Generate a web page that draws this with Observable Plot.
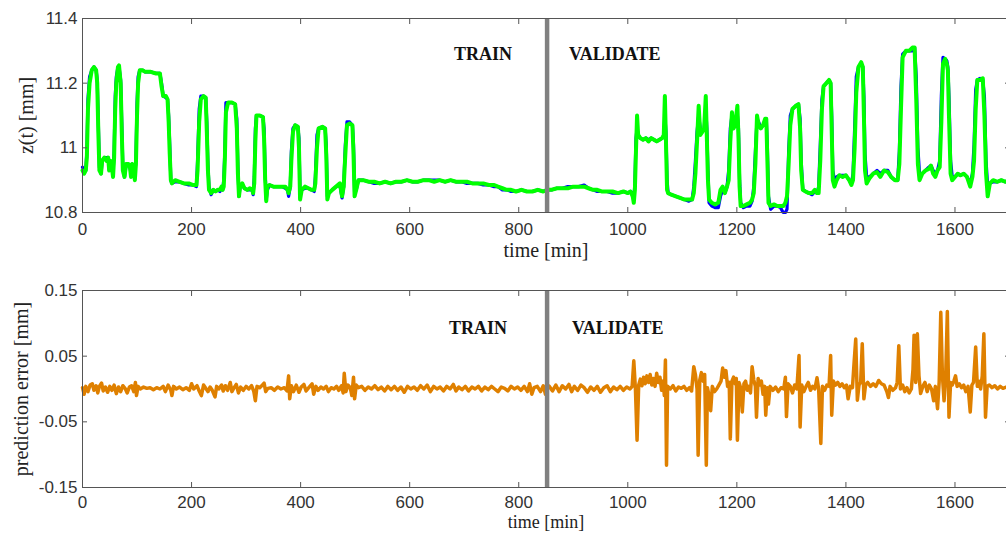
<!DOCTYPE html>
<html>
<head>
<meta charset="utf-8">
<script src="https://cdn.jsdelivr.net/npm/d3@7"></script>
<script src="https://cdn.jsdelivr.net/npm/@observablehq/plot@0.6"></script>
<style>
  html, body { margin: 0; padding: 0; background: #fff; overflow: hidden; }
  #chart { width: 1006px; height: 533px; }
  #chart svg { display: block; }
</style>
</head>
<body>
<div id="chart"></div>
<script>
// Time axis and the train/validate split
const xTicks = [0, 200, 400, 600, 800, 1000, 1200, 1400, 1600];
const timeDomain = [0, 1700];
const splitTime = 852;
const phaseNames = ["TRAIN", "VALIDATE"];
const xLabel = "time [min]";

// Upper panel: z(t), columns = [time, model output, measured]
const zTicks = [10.8, 11, 11.2, 11.4];
const zLabel = "z(t) [mm]";
const zSeries = [
  [0, 10.93, 10.94], [3, 10.92, 10.93], [6, 10.93, 10.93], [8, 10.97, 10.99], [10, 11.12, 11.15],
  [13, 11.20, 11.22], [17, 11.24, 11.24], [21, 11.25, 11.25], [25, 11.24, 11.24], [27, 11.20, 11.21],
  [29, 11.05, 11.08], [31, 10.93, 10.94], [34, 10.92, 10.92], [36, 10.96, 10.96], [40, 10.97, 10.97],
  [44, 10.96, 10.97], [47, 10.97, 10.97], [49, 10.93, 10.93], [51, 10.96, 10.96], [54, 10.94, 10.95],
  [56, 10.91, 10.92], [58, 10.97, 10.99], [60, 11.12, 11.16], [62, 11.20, 11.22], [65, 11.25, 11.25],
  [67, 11.255, 11.25], [70, 11.20, 11.21], [72, 11.05, 11.08], [74, 10.93, 10.94], [77, 10.91, 10.91],
  [80, 10.95, 10.95], [84, 10.95, 10.95], [87, 10.94, 10.94], [89, 10.91, 10.92], [91, 10.95, 10.95],
  [94, 10.94, 10.94], [96, 10.90, 10.91], [98, 10.95, 10.97], [100, 11.10, 11.14], [102, 11.20, 11.22],
  [105, 11.24, 11.24], [110, 11.24, 11.24], [115, 11.235, 11.235], [125, 11.235, 11.235], [135, 11.23, 11.23],
  [142, 11.23, 11.23], [145, 11.19, 11.20], [148, 11.16, 11.16], [153, 11.16, 11.155], [156, 11.15, 11.15],
  [158, 11.08, 11.10], [160, 10.98, 11.01], [162, 10.90, 10.90], [164, 10.89, 10.89], [170, 10.90, 10.895],
  [178, 10.895, 10.895], [186, 10.89, 10.89], [195, 10.89, 10.885], [203, 10.885, 10.885], [209, 10.885, 10.88],
  [211, 10.93, 10.96], [214, 11.08, 11.12], [217, 11.15, 11.16], [222, 11.16, 11.16], [226, 11.155, 11.155],
  [228, 11.05, 11.08], [230, 10.93, 10.95], [232, 10.87, 10.88], [236, 10.86, 10.855], [240, 10.87, 10.87],
  [244, 10.865, 10.865], [248, 10.87, 10.87], [252, 10.87, 10.865], [255, 10.88, 10.875], [257, 10.87, 10.87],
  [259, 10.88, 10.90], [261, 10.96, 10.99], [263, 11.11, 11.14], [267, 11.14, 11.14], [274, 11.14, 11.14],
  [280, 11.135, 11.135], [283, 11.06, 11.09], [285, 10.92, 10.94], [287, 10.85, 10.85], [289, 10.88, 10.88],
  [293, 10.89, 10.885], [297, 10.875, 10.875], [302, 10.87, 10.87], [307, 10.875, 10.87], [311, 10.87, 10.87],
  [313, 10.86, 10.855], [315, 10.89, 10.91], [317, 11.02, 11.06], [319, 11.10, 11.10], [325, 11.10, 11.10],
  [331, 11.095, 11.095], [333, 11.03, 11.06], [335, 10.90, 10.92], [337, 10.835, 10.84], [339, 10.88, 10.87],
  [343, 10.885, 10.885], [350, 10.88, 10.88], [358, 10.88, 10.88], [366, 10.88, 10.88], [372, 10.88, 10.875],
  [376, 10.87, 10.87], [378, 10.86, 10.85], [381, 10.88, 10.88], [383, 10.96, 10.99], [386, 11.05, 11.06],
  [390, 11.07, 11.07], [395, 11.065, 11.065], [397, 11.00, 11.03], [399, 10.84, 10.86], [402, 10.87, 10.87],
  [408, 10.88, 10.875], [414, 10.875, 10.875], [420, 10.87, 10.87], [425, 10.87, 10.865], [427, 10.89, 10.91],
  [430, 11.00, 11.04], [433, 11.06, 11.06], [440, 11.065, 11.065], [445, 11.06, 11.06], [447, 10.98, 11.01],
  [449, 10.84, 10.85], [452, 10.86, 10.86], [458, 10.87, 10.87], [465, 10.88, 10.88], [472, 10.89, 10.885],
  [476, 10.85, 10.845], [479, 10.88, 10.88], [482, 10.98, 11.01], [485, 11.07, 11.08], [490, 11.075, 11.08],
  [495, 11.07, 11.07], [497, 10.98, 11.01], [499, 10.85, 10.86], [502, 10.87, 10.87], [506, 10.90, 10.90],
  [515, 10.90, 10.90], [525, 10.895, 10.895], [535, 10.895, 10.89], [545, 10.89, 10.89], [555, 10.895, 10.895],
  [565, 10.89, 10.89], [575, 10.895, 10.895], [585, 10.895, 10.895], [595, 10.90, 10.90], [605, 10.895, 10.895],
  [615, 10.895, 10.895], [625, 10.90, 10.90], [635, 10.90, 10.90], [645, 10.895, 10.90], [655, 10.90, 10.90],
  [665, 10.895, 10.895], [675, 10.90, 10.90], [685, 10.895, 10.895], [695, 10.895, 10.895], [705, 10.895, 10.89],
  [715, 10.89, 10.89], [725, 10.89, 10.89], [735, 10.89, 10.885], [745, 10.885, 10.885], [755, 10.885, 10.88],
  [762, 10.88, 10.88], [770, 10.875, 10.87], [778, 10.87, 10.87], [786, 10.87, 10.865], [795, 10.865, 10.865],
  [805, 10.87, 10.87], [815, 10.865, 10.865], [825, 10.865, 10.865], [835, 10.87, 10.87], [845, 10.865, 10.865],
  [852, 10.87, 10.87], [860, 10.87, 10.87], [870, 10.875, 10.875], [880, 10.875, 10.875], [890, 10.875, 10.88],
  [900, 10.88, 10.88], [910, 10.88, 10.88], [920, 10.88, 10.885], [928, 10.875, 10.875], [936, 10.87, 10.87],
  [944, 10.87, 10.865], [952, 10.865, 10.865], [962, 10.865, 10.865], [972, 10.865, 10.86], [982, 10.86, 10.86],
  [992, 10.865, 10.865], [1000, 10.86, 10.86], [1005, 10.865, 10.865], [1009, 10.85, 10.86], [1011, 10.83, 10.84],
  [1013, 10.87, 10.89], [1015, 10.99, 11.03], [1017, 11.10, 11.06], [1019, 11.04, 11.04], [1023, 11.03, 11.03],
  [1028, 11.025, 11.025], [1033, 11.03, 11.03], [1038, 11.02, 11.025], [1043, 11.03, 11.03], [1048, 11.025, 11.025],
  [1053, 11.02, 11.02], [1058, 11.025, 11.025], [1063, 11.03, 11.03], [1066, 11.04, 11.035], [1068, 11.16, 11.10],
  [1070, 11.02, 11.05], [1072, 10.87, 10.90], [1074, 10.86, 10.86], [1080, 10.855, 10.855], [1088, 10.85, 10.85],
  [1096, 10.845, 10.845], [1104, 10.84, 10.84], [1112, 10.84, 10.835], [1118, 10.84, 10.84], [1121, 10.86, 10.88],
  [1124, 10.92, 10.96], [1127, 11.02, 11.05], [1130, 11.13, 11.10], [1133, 11.04, 11.06], [1137, 11.05, 11.05],
  [1140, 11.06, 11.06], [1143, 11.16, 11.12], [1145, 11.03, 11.06], [1147, 10.90, 10.93], [1149, 10.84, 10.83],
  [1154, 10.83, 10.82], [1160, 10.825, 10.815], [1166, 10.83, 10.815], [1170, 10.87, 10.85], [1174, 10.88, 10.87],
  [1178, 10.86, 10.86], [1182, 10.88, 10.88], [1185, 10.90, 10.93], [1188, 11.02, 11.06], [1191, 11.11, 11.10],
  [1194, 11.06, 11.07], [1197, 11.07, 11.07], [1201, 11.13, 11.10], [1203, 11.03, 11.06], [1205, 10.88, 10.90],
  [1207, 10.82, 10.83], [1212, 10.82, 10.815], [1218, 10.825, 10.82], [1224, 10.83, 10.82], [1228, 10.84, 10.835],
  [1231, 10.86, 10.88], [1234, 10.95, 10.99], [1237, 11.10, 11.09], [1240, 11.07, 11.08], [1244, 11.06, 11.06],
  [1248, 11.07, 11.07], [1252, 11.09, 11.08], [1254, 11.09, 11.09], [1256, 10.96, 11.00], [1258, 10.83, 10.85],
  [1262, 10.82, 10.81], [1268, 10.825, 10.82], [1274, 10.82, 10.82], [1280, 10.82, 10.815], [1285, 10.82, 10.80],
  [1289, 10.83, 10.80], [1292, 10.85, 10.81], [1295, 10.95, 10.99], [1298, 11.07, 11.10], [1302, 11.12, 11.12],
  [1308, 11.13, 11.13], [1313, 11.135, 11.135], [1316, 11.06, 11.09], [1318, 10.93, 10.96], [1321, 10.87, 10.87],
  [1326, 10.865, 10.865], [1332, 10.86, 10.86], [1338, 10.86, 10.855], [1343, 10.87, 10.865], [1347, 10.86, 10.86],
  [1350, 10.86, 10.88], [1353, 10.96, 11.01], [1356, 11.12, 11.15], [1359, 11.19, 11.19], [1364, 11.20, 11.20],
  [1369, 11.21, 11.21], [1372, 11.20, 11.20], [1374, 11.05, 11.10], [1376, 10.90, 10.93], [1379, 10.88, 10.90],
  [1383, 10.90, 10.91], [1388, 10.915, 10.915], [1394, 10.91, 10.915], [1400, 10.915, 10.915], [1406, 10.90, 10.90],
  [1410, 10.885, 10.89], [1413, 10.90, 10.92], [1416, 11.00, 11.06], [1419, 11.17, 11.22], [1423, 11.25, 11.25],
  [1428, 11.265, 11.26], [1431, 11.25, 11.25], [1433, 11.10, 11.16], [1435, 10.93, 10.98], [1438, 10.89, 10.91],
  [1443, 10.905, 10.91], [1450, 10.92, 10.92], [1457, 10.925, 10.93], [1463, 10.91, 10.92], [1470, 10.93, 10.93],
  [1477, 10.925, 10.93], [1483, 10.91, 10.91], [1490, 10.90, 10.90], [1495, 10.90, 10.90], [1498, 10.95, 10.99],
  [1501, 11.12, 11.19], [1504, 11.28, 11.29], [1510, 11.30, 11.30], [1516, 11.30, 11.30], [1522, 11.31, 11.30],
  [1526, 11.31, 11.31], [1529, 11.15, 11.22], [1532, 10.95, 11.00], [1535, 10.90, 10.92], [1540, 10.92, 10.92],
  [1546, 10.93, 10.93], [1552, 10.935, 10.94], [1556, 10.945, 10.945], [1560, 10.92, 10.93], [1564, 10.91, 10.92],
  [1568, 10.93, 10.93], [1572, 10.94, 10.96], [1575, 11.08, 11.16], [1578, 11.26, 11.28], [1582, 11.275, 11.275],
  [1585, 11.26, 11.27], [1587, 11.24, 11.25], [1589, 11.10, 11.16], [1592, 10.92, 10.96], [1595, 10.90, 10.91],
  [1600, 10.91, 10.91], [1605, 10.92, 10.92], [1610, 10.915, 10.915], [1616, 10.92, 10.92], [1622, 10.91, 10.91],
  [1628, 10.88, 10.89], [1632, 10.91, 10.92], [1635, 10.96, 11.01], [1638, 11.12, 11.18], [1641, 11.21, 11.21],
  [1646, 11.21, 11.215], [1651, 11.215, 11.21], [1654, 11.10, 11.16], [1657, 10.92, 10.96], [1660, 10.85, 10.88],
  [1664, 10.89, 10.89], [1670, 10.90, 10.895], [1678, 10.895, 10.895], [1685, 10.90, 10.90], [1692, 10.895, 10.895],
  [1700, 10.90, 10.90]
];

// Lower panel: prediction error, columns = [time, error]
const errTicks = [-0.15, -0.05, 0.05, 0.15];
const errLabel = "prediction error [mm]";
const errSeries = [
  [0, 0.002], [3, -0.008], [6, 0.004], [10, -0.004], [14, 0.006], [18, 0.008], [21, -0.002], [25, 0.005],
  [28, -0.006], [31, 0.004], [35, 0.009], [38, -0.003], [42, 0.003], [46, -0.005], [50, 0.004], [54, -0.002],
  [58, 0.006], [62, -0.007], [66, 0.003], [70, -0.004], [74, 0.005], [78, 0.001], [82, -0.006], [86, 0.003],
  [90, 0.005], [94, -0.004], [97, 0.010], [99, -0.010], [102, 0.004], [106, 0.000], [112, 0.003], [118, 0.001],
  [124, 0.002], [130, -0.001], [136, 0.002], [142, 0.000], [148, 0.004], [152, -0.004], [157, 0.006], [162, -0.002],
  [164, -0.010], [167, 0.004], [172, 0.000], [178, 0.003], [184, -0.001], [190, 0.002], [196, -0.002], [200, 0.008],
  [204, 0.000], [210, 0.005], [214, -0.003], [218, -0.010], [222, 0.006], [226, 0.001], [230, -0.004], [234, 0.003],
  [238, -0.002], [243, -0.012], [246, 0.004], [250, 0.000], [255, 0.006], [258, -0.003], [262, 0.005], [266, -0.002],
  [271, 0.010], [274, -0.004], [278, 0.002], [282, 0.007], [286, -0.006], [290, 0.003], [295, -0.002], [300, 0.004],
  [305, 0.000], [310, 0.005], [314, -0.003], [317, -0.018], [320, 0.004], [325, 0.002], [330, 0.006], [333, 0.009],
  [336, -0.004], [340, 0.001], [346, 0.002], [352, -0.002], [358, 0.003], [364, 0.000], [370, 0.002], [375, -0.003],
  [378, 0.020], [380, -0.015], [383, 0.005], [387, -0.004], [392, 0.006], [397, -0.005], [401, 0.003], [406, 0.007],
  [410, -0.003], [415, 0.002], [421, 0.008], [424, -0.008], [428, 0.004], [432, -0.002], [437, 0.003], [442, 0.000],
  [447, 0.004], [451, -0.004], [456, 0.002], [461, 0.000], [466, 0.004], [470, -0.002], [475, 0.005], [478, -0.006],
  [480, 0.024], [483, -0.004], [487, 0.006], [491, 0.002], [494, -0.010], [497, 0.018], [499, -0.015], [502, 0.006],
  [506, 0.002], [512, 0.004], [518, -0.002], [524, 0.003], [530, 0.000], [536, 0.005], [542, -0.001], [548, 0.003],
  [554, -0.003], [560, 0.004], [566, -0.001], [572, 0.004], [578, -0.002], [584, 0.003], [590, -0.005], [596, 0.004],
  [602, 0.000], [608, 0.003], [614, -0.002], [620, 0.005], [626, 0.000], [632, 0.006], [638, -0.004], [644, 0.004],
  [650, 0.000], [656, 0.003], [662, -0.003], [668, 0.004], [674, 0.000], [680, 0.007], [685, -0.003], [690, 0.003],
  [696, -0.001], [702, 0.004], [708, -0.003], [714, 0.003], [720, 0.000], [726, 0.004], [732, -0.003], [738, 0.003],
  [744, -0.001], [750, 0.004], [756, 0.000], [762, -0.004], [768, 0.003], [774, 0.001], [780, -0.003], [786, 0.004],
  [792, 0.000], [798, 0.003], [804, -0.002], [810, 0.004], [816, -0.004], [820, 0.008], [824, -0.008], [828, 0.002],
  [834, 0.004], [840, -0.004], [845, 0.005], [849, -0.008], [852, 0.006], [856, 0.004], [862, -0.003], [868, 0.006],
  [874, -0.004], [880, 0.005], [886, 0.000], [892, 0.007], [897, -0.004], [902, 0.004], [908, -0.002], [914, 0.006],
  [920, 0.002], [926, -0.005], [932, 0.003], [938, -0.002], [944, 0.004], [950, -0.005], [956, 0.002], [962, 0.005],
  [968, -0.004], [974, 0.003], [980, -0.001], [986, 0.004], [992, -0.002], [998, 0.003], [1004, 0.000], [1008, 0.004],
  [1011, 0.043], [1014, 0.000], [1017, -0.078], [1020, 0.006], [1023, 0.015], [1026, 0.005], [1029, 0.018], [1032, 0.008],
  [1035, 0.020], [1038, 0.010], [1041, 0.022], [1044, 0.006], [1047, 0.016], [1050, 0.004], [1053, 0.024], [1056, 0.010],
  [1059, 0.018], [1062, -0.002], [1065, 0.012], [1067, -0.010], [1069, 0.044], [1071, -0.116], [1073, 0.004], [1078, 0.000],
  [1083, 0.005], [1088, -0.003], [1093, 0.003], [1098, 0.001], [1103, 0.004], [1108, -0.002], [1113, 0.002], [1117, -0.003],
  [1121, 0.034], [1124, 0.022], [1127, 0.000], [1129, -0.101], [1132, 0.014], [1135, 0.025], [1138, 0.012], [1141, 0.022],
  [1144, -0.116], [1146, 0.002], [1149, -0.010], [1152, -0.033], [1155, 0.004], [1159, -0.004], [1163, 0.000], [1167, 0.006],
  [1171, 0.012], [1174, 0.032], [1177, 0.018], [1180, 0.028], [1183, 0.004], [1186, 0.010], [1188, -0.076], [1191, 0.012],
  [1194, 0.018], [1197, 0.008], [1199, 0.016], [1201, -0.078], [1204, 0.010], [1207, 0.002], [1210, -0.035], [1213, 0.008],
  [1216, 0.012], [1219, -0.002], [1222, 0.004], [1225, -0.006], [1228, 0.034], [1231, 0.014], [1234, 0.004], [1236, -0.043],
  [1239, 0.016], [1242, 0.006], [1245, 0.012], [1248, -0.008], [1251, 0.004], [1253, -0.040], [1256, 0.002], [1258, -0.023],
  [1261, 0.004], [1266, -0.002], [1271, 0.003], [1276, -0.004], [1281, 0.002], [1286, 0.000], [1289, 0.018], [1291, -0.042],
  [1294, 0.008], [1298, 0.004], [1302, -0.006], [1306, 0.006], [1310, 0.000], [1314, 0.051], [1316, -0.058], [1319, 0.006],
  [1323, -0.004], [1327, 0.004], [1331, 0.010], [1335, -0.002], [1339, 0.004], [1343, 0.000], [1347, 0.017], [1350, 0.000],
  [1354, -0.083], [1357, 0.004], [1361, -0.002], [1365, 0.006], [1369, 0.004], [1372, 0.051], [1374, -0.040], [1377, 0.012],
  [1381, 0.006], [1385, 0.010], [1389, 0.004], [1393, 0.008], [1397, 0.002], [1401, 0.006], [1404, -0.015], [1408, 0.004],
  [1412, 0.002], [1415, 0.040], [1418, 0.076], [1421, -0.017], [1424, 0.006], [1427, 0.010], [1430, 0.069], [1433, -0.015],
  [1436, 0.006], [1440, 0.010], [1445, 0.004], [1450, 0.008], [1455, 0.004], [1460, 0.013], [1465, 0.008], [1470, 0.006],
  [1475, -0.004], [1478, -0.013], [1481, 0.004], [1486, -0.002], [1491, 0.002], [1494, 0.010], [1497, 0.066], [1500, 0.000],
  [1504, 0.006], [1508, -0.004], [1512, 0.002], [1516, -0.006], [1520, 0.000], [1523, 0.030], [1525, 0.082], [1528, 0.010],
  [1531, 0.084], [1534, 0.020], [1537, -0.007], [1541, 0.004], [1545, 0.010], [1549, -0.004], [1553, 0.006], [1557, 0.000],
  [1561, -0.018], [1564, 0.004], [1568, -0.030], [1571, 0.010], [1574, 0.117], [1577, 0.020], [1580, -0.018], [1583, 0.020],
  [1586, 0.118], [1589, -0.043], [1592, 0.010], [1595, 0.006], [1598, 0.012], [1601, 0.020], [1604, 0.004], [1608, 0.008],
  [1612, 0.002], [1616, 0.006], [1620, -0.004], [1624, 0.004], [1628, -0.035], [1631, 0.006], [1634, 0.010], [1638, 0.064],
  [1641, 0.004], [1644, 0.012], [1647, 0.000], [1650, 0.020], [1653, 0.084], [1656, -0.043], [1659, 0.004], [1663, 0.006],
  [1668, 0.002], [1673, 0.005], [1678, 0.000], [1683, 0.004], [1688, 0.001], [1694, 0.003], [1700, 0.002]
];

// Shared styling
const axisColor = "#555";
const tickFont = "'Liberation Sans', Arial, sans-serif";
const serifFont = "'Liberation Serif', 'Times New Roman', serif";

// Box with inward ticks on all four sides
function boxAxes(yTicks, xPad) {
  return [
    Plot.frame({stroke: axisColor, strokeWidth: 1}),
    Plot.axisX(xTicks, {anchor: "bottom", tickSize: -5, tickPadding: xPad, stroke: axisColor,
      fill: "#333", fontSize: 17, fontFamily: tickFont, tickFormat: d => String(d), label: null}),
    Plot.axisX(xTicks, {anchor: "top", tickSize: -5, stroke: axisColor, tickFormat: () => "", label: null}),
    Plot.axisY(yTicks, {anchor: "left", tickSize: -5, tickPadding: 10, stroke: axisColor,
      fill: "#333", fontSize: 17, fontFamily: tickFont, tickFormat: d => String(d), label: null}),
    Plot.axisY(yTicks, {anchor: "right", tickSize: -5, stroke: axisColor, tickFormat: () => "", label: null})
  ];
}

function phaseMarks(dy, dxTrain, dxValidate) {
  return [
    Plot.text([phaseNames[0]], {x: () => splitTime, text: d => d, frameAnchor: "top", dy, dx: dxTrain,
      textAnchor: "end", lineAnchor: "middle", fontFamily: serifFont, fontWeight: "bold", fontSize: 18, fill: "#111"}),
    Plot.text([phaseNames[1]], {x: () => splitTime, text: d => d, frameAnchor: "top", dy, dx: dxValidate,
      textAnchor: "start", lineAnchor: "middle", fontFamily: serifFont, fontWeight: "bold", fontSize: 18, fill: "#111"})
  ];
}

function axisTitles(yTitle, yDx, xDy, xSize) {
  return [
    Plot.text([xLabel], {text: d => d, frameAnchor: "bottom", dy: xDy, textAnchor: "middle", lineAnchor: "middle",
      fontFamily: serifFont, fontSize: xSize, fill: "#222"}),
    Plot.text([yTitle], {text: d => d, frameAnchor: "left", dx: yDx, rotate: -90,
      textAnchor: "middle", lineAnchor: "middle", fontFamily: serifFont, fontSize: 20, fill: "#222"})
  ];
}

const upper = Plot.plot({
  width: 1006, height: 266,
  marginLeft: 82, marginRight: -3, marginTop: 18, marginBottom: 54,
  style: {background: "white", fontFamily: tickFont},
  x: {domain: timeDomain, axis: null},
  y: {domain: [10.8, 11.4], axis: null},
  marks: [
    Plot.line(zSeries, {x: d => d[0], y: d => d[2], stroke: "#0000ff", strokeWidth: 3.2}),
    Plot.line(zSeries, {x: d => d[0], y: d => d[1], stroke: "#00ff00", strokeWidth: 4}),
    Plot.ruleX([splitTime], {stroke: "#808080", strokeWidth: 4.5}),
    ...phaseMarks(36, -35, 22),
    ...boxAxes(zTicks, 15),
    ...axisTitles(zLabel, -56, 38, 20)
  ]
});

const lower = Plot.plot({
  width: 1006, height: 267,
  marginLeft: 82, marginRight: -3, marginTop: 24, marginBottom: 46,
  style: {background: "white", fontFamily: tickFont},
  x: {domain: timeDomain, axis: null},
  y: {domain: [-0.15, 0.15], axis: null},
  marks: [
    Plot.line(errSeries, {x: d => d[0], y: d => d[1], stroke: "#df8000", strokeWidth: 3.5}),
    Plot.ruleX([splitTime], {stroke: "#808080", strokeWidth: 4.5}),
    ...phaseMarks(38, -40, 25),
    ...boxAxes(errTicks, 13),
    ...axisTitles(errLabel, -61, 35, 18)
  ]
});

const chart = document.getElementById("chart");
chart.appendChild(upper);
chart.appendChild(lower);
</script>
</body>
</html>
